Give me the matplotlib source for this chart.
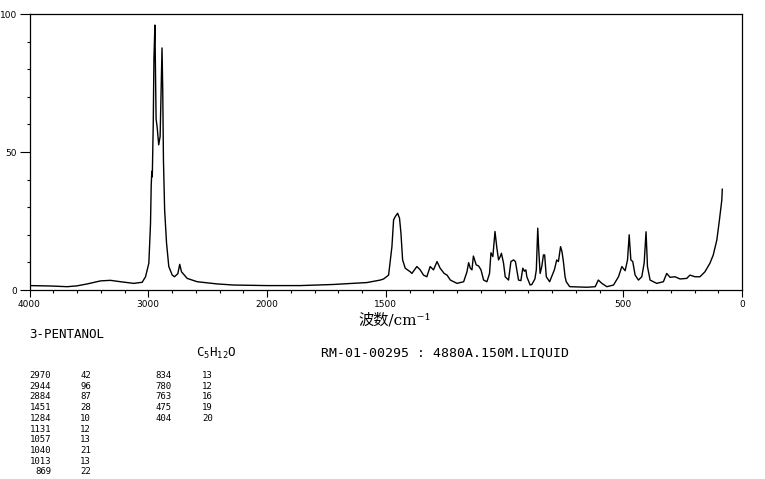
import numpy as np
import matplotlib
matplotlib.use("Agg")
import matplotlib.pyplot as plt

# spectrum (wavenumber cm-1, intensity)
wavenumber = [4000, 3900, 3822, 3682, 3600, 3514, 3402, 3318, 3234, 3122, 3051,
              3023, 2995, 2981, 2975, 2970, 2966, 2958, 2952, 2944, 2940, 2934,
              2925, 2912, 2900, 2892, 2884, 2878, 2872, 2862, 2846, 2827, 2798,
              2779, 2751, 2735, 2720, 2672, 2588, 2420, 2280, 2000, 1860, 1721,
              1579, 1523, 1509, 1488, 1474, 1467, 1460, 1450, 1442, 1436, 1429,
              1418, 1397, 1390, 1369, 1355, 1341, 1327, 1313, 1299, 1284, 1271,
              1254, 1242, 1228, 1200, 1172, 1158, 1151, 1144, 1137, 1131, 1119,
              1109, 1099, 1088, 1074, 1063, 1057, 1049, 1043, 1040, 1032, 1025,
              1018, 1013, 1004, 997, 983, 973, 962, 954, 948, 941, 931, 923, 916,
              910, 906, 892, 885, 872, 866, 860, 855, 850, 843, 836, 831, 824,
              810, 790, 780, 773, 764, 758, 752, 745, 740, 728, 724, 653, 618,
              605, 590, 569, 541, 520, 506, 492, 482, 475, 468, 460, 450, 436,
              422, 412, 404, 398, 387, 359, 331, 317, 303, 282, 261, 233, 219,
              198, 177, 156, 135, 121, 106, 95, 85, 83]
intensity = [1.6, 1.5, 1.45, 1.2, 1.5, 2.2, 3.3, 3.5, 3.0, 2.4, 2.8,
             4.8, 9.7, 24, 38, 43, 41, 60, 84, 96, 83, 62,
             59, 52.6, 55.6, 72.5, 87.7, 72.5, 47, 29, 17, 8.5, 5.4,
             4.8, 5.9, 9.3, 6.6, 4.2, 3.0, 2.2, 1.8, 1.6, 1.6, 2.0,
             2.7, 3.6, 4.0, 5.4, 15.7, 25.4, 26.6, 27.8, 26, 20.6, 10.9,
             7.9, 6.6, 6.0, 8.5, 7.3, 5.4, 4.8, 8.5, 7.3, 10.3, 7.9,
             6.0, 5.4, 3.6, 2.4, 3.0, 6.6, 9.9, 7.9, 7.3, 12.3, 9.1,
             8.7, 7.3, 3.6, 3.0, 6.0, 13.5, 12.1, 18.1, 21.2, 15.1, 10.9,
             12.1, 13.3, 9.7, 4.8, 3.6, 10.3, 10.9, 10.3, 7.3, 3.6, 3.4, 7.9, 6.8,
             7.3, 4.8, 1.8, 2.0, 4.0, 7.3, 22.4, 13.3, 6.0, 8.5, 12.7, 12.7, 4.8,
             3.0, 7.3, 10.9, 10.3, 15.7, 13.9, 10.3, 4.8, 3.0, 1.5, 1.2, 1.0, 1.2,
             3.6, 2.4, 1.2, 1.8, 4.8, 8.5, 7.0, 10.9, 20.0, 10.9, 10.3, 5.4, 3.6,
             4.8, 9.7, 21.1, 8.5, 3.6, 2.4, 3.0, 6.0, 4.6, 4.8, 4.0, 4.2, 5.4,
             4.8, 4.8, 6.6, 9.7, 12.7, 18.1, 25.4, 32.6, 36.5]

xticks = [4000, 3000, 2000, 1500, 500, 0]
yticks = [0, 50, 100]

compound = "3-PENTANOL"
formula = r"C$_{5}$H$_{12}$O"
sample = "RM-01-00295 : 4880A.150M.LIQUID"
peak_wn_1 = ["2970", "2944", "2884", "1451", "1284", "1131", "1057", "1040", "1013", "869"]
peak_int_1 = ["42", "96", "87", "28", "10", "12", "13", "21", "13", "22"]
peak_wn_2 = ["834", "780", "763", "475", "404"]
peak_int_2 = ["13", "12", "16", "19", "20"]

plt.rcParams["mathtext.fontset"] = "custom"
plt.rcParams["mathtext.rm"] = "DejaVu Sans Mono"

W, H = 765, 479
fig = plt.figure(figsize=(W / 100, H / 100), dpi=100)
ax = fig.add_axes([29.5 / W, (H - 290) / H, (742 - 29.5) / W, (290 - 14) / H])


# above 2000 cm-1 the axis is compressed by half
def fwd(x):
    x = np.asarray(x, dtype=float)
    return np.where(x > 2000, 2000 + (x - 2000) / 2, x)


def inv(u):
    u = np.asarray(u, dtype=float)
    return np.where(u > 2000, 2000 + 2 * (u - 2000), u)


ax.set_xscale("function", functions=(fwd, inv))
ax.plot(wavenumber, intensity, color="black", lw=1.0)
ax.set_xlim(4000, 0)
ax.set_ylim(0, 100)

minor_x = list(range(3800, 2000, -200)) + [w for w in range(1900, 0, -100) if w not in xticks]
ax.set_xticks(xticks)
ax.set_xticks(minor_x, minor=True)
ax.set_yticks(yticks)
ax.set_yticks(range(10, 100, 10), minor=True)
ax.tick_params(axis="both", which="major", direction="out", length=5, width=0.8,
               labelsize=6.5, pad=2)
ax.tick_params(axis="both", which="minor", direction="out", length=2.5, width=0.8)
ax.tick_params(axis="y", which="major", length=7)
for s in ax.spines.values():
    s.set_linewidth(0.9)

fig.text(395 / W, 1 - 320 / H, "波数/cm⁻¹", ha="center", va="center",
         fontsize=11, family=["DejaVu Serif", "Noto Sans CJK SC"])


def ptext(x, y, s, **kw):
    fig.text(x / W, 1 - y / H, s, va="center", family="DejaVu Sans Mono", **kw)


ptext(29, 335, compound, fontsize=9)
ptext(196, 353, formula, fontsize=9)
ptext(321, 353, sample, fontsize=9.5)

for i in range(len(peak_wn_1)):
    y = 375.5 + i * 10.7
    ptext(51, y, peak_wn_1[i], fontsize=6.5, ha="right")
    ptext(91, y, peak_int_1[i], fontsize=6.5, ha="right")
for i in range(len(peak_wn_2)):
    y = 375.5 + i * 10.7
    ptext(172, y, peak_wn_2[i], fontsize=6.5, ha="right")
    ptext(213, y, peak_int_2[i], fontsize=6.5, ha="right")

fig.savefig("out.png", dpi=100)
